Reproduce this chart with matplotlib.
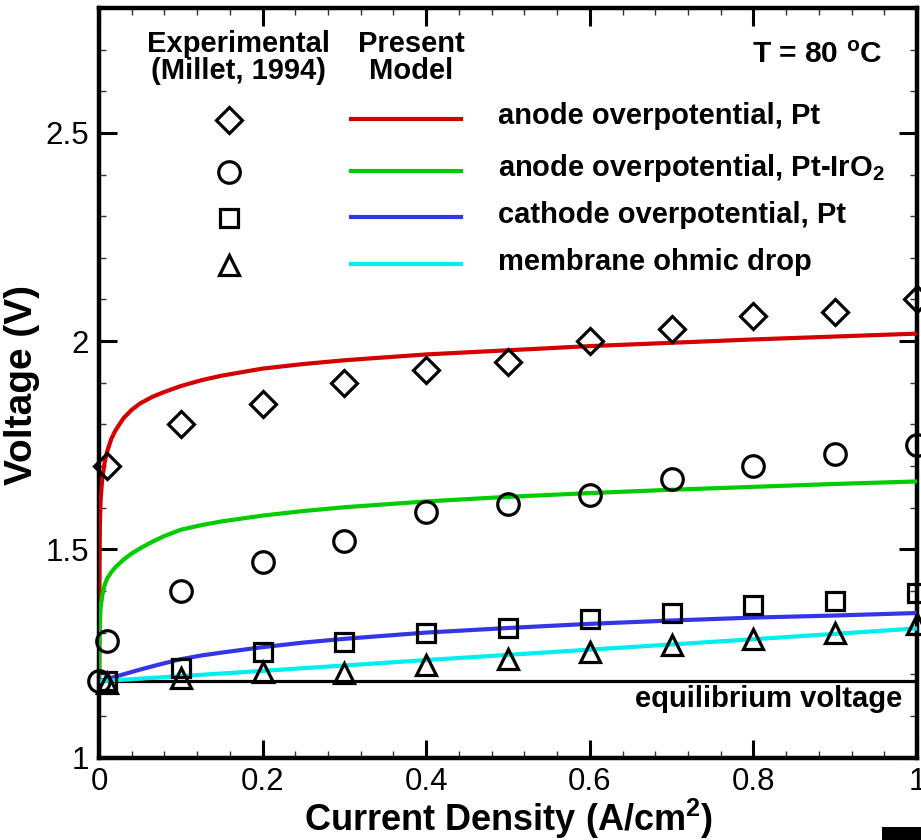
import matplotlib
matplotlib.use("Agg")
import matplotlib.pyplot as plt
from matplotlib.patches import Rectangle
from matplotlib.ticker import MultipleLocator, FixedLocator, FixedFormatter

plt.rcParams['font.family'] = ['Liberation Sans', 'DejaVu Sans']
plt.rcParams['mathtext.fontset'] = 'custom'
plt.rcParams['mathtext.rm'] = 'Liberation Sans'
plt.rcParams['mathtext.bf'] = 'Liberation Sans:bold'
plt.rcParams['mathtext.it'] = 'Liberation Sans:italic'

# ---------------- data ----------------
x_exp = [0.01, 0.1, 0.2, 0.3, 0.4, 0.5, 0.6, 0.7, 0.8, 0.9, 1.0]
exp_anode_pt = [1.70, 1.80, 1.85, 1.90, 1.93, 1.95, 2.00, 2.03, 2.06, 2.07, 2.10]
x_exp_ir = [0.0, 0.01, 0.1, 0.2, 0.3, 0.4, 0.5, 0.6, 0.7, 0.8, 0.9, 1.0]
exp_anode_ir = [1.183, 1.28, 1.40, 1.47, 1.52, 1.59, 1.61, 1.63, 1.67, 1.70, 1.73, 1.75]
exp_cathode = [1.183, 1.216, 1.253, 1.277, 1.299, 1.312, 1.332, 1.348, 1.367, 1.375, 1.395]
exp_membrane = [1.18, 1.19, 1.205, 1.202, 1.222, 1.237, 1.253, 1.27, 1.285, 1.298, 1.32]

x_red = [0.0, 0.0005, 0.001, 0.002, 0.004, 0.007, 0.01, 0.015, 0.02, 0.03, 0.04, 0.05,
         0.065, 0.08, 0.1, 0.125, 0.15, 0.2, 0.25, 0.3, 0.4, 0.5, 0.6, 0.7, 0.8, 0.9, 1.0]
model_anode_pt = [1.183, 1.45, 1.55, 1.62, 1.67, 1.71, 1.735, 1.765, 1.785, 1.815, 1.835, 1.85,
                  1.866, 1.878, 1.892, 1.906, 1.917, 1.934, 1.945, 1.954, 1.968, 1.978, 1.988,
                  1.996, 2.004, 2.011, 2.018]
x_green = [0.0, 0.0005, 0.001, 0.002, 0.004, 0.007, 0.01, 0.015, 0.02, 0.03, 0.04, 0.05,
           0.065, 0.08, 0.1, 0.125, 0.15, 0.2, 0.25, 0.3, 0.4, 0.5, 0.6, 0.7, 0.8, 0.9, 1.0]
model_anode_ir = [1.183, 1.28, 1.32, 1.36, 1.39, 1.415, 1.43, 1.445, 1.457, 1.475, 1.49, 1.502,
                  1.518, 1.532, 1.547, 1.558, 1.567, 1.581, 1.592, 1.601, 1.615, 1.626, 1.635,
                  1.643, 1.650, 1.657, 1.663]
x_blue = [0.0, 0.025, 0.05, 0.075, 0.1, 0.125, 0.15, 0.2, 0.25, 0.3, 0.4, 0.5, 0.6, 0.7, 0.8, 0.9, 1.0]
model_cathode = [1.183, 1.197, 1.211, 1.224, 1.236, 1.245, 1.252, 1.265, 1.276, 1.285, 1.300,
                 1.311, 1.321, 1.329, 1.336, 1.341, 1.347]
x_cyan = [0.0, 0.2, 0.4, 0.6, 0.8, 1.0]
model_membrane = [1.183, 1.208, 1.234, 1.259, 1.284, 1.310]
x_eq = [0.0, 1.0]
eq_voltage = [1.183, 1.183]

xticks = [0, 0.2, 0.4, 0.6, 0.8, 1.0]
xtick_labels = ['0', '0.2', '0.4', '0.6', '0.8', '1']
yticks = [1.0, 1.5, 2.0, 2.5]
ytick_labels = ['1', '1.5', '2', '2.5']

labels = ['anode overpotential, Pt',
          r'anode overpotential, Pt-IrO$_\mathbf{2}$',
          'cathode overpotential, Pt',
          'membrane ohmic drop']
colors = ['#d40000', '#00cc00', '#3535e8', '#00eeee']
markers = ['D', 'o', 's', '^']
msizes = [13, 15.5, 13, 14.5]

# ---------------- figure ----------------
W, H = 921, 840
fig = plt.figure(figsize=(W / 100, H / 100), dpi=100)
x0, x1, ytop, ybot = 99, 917, 8, 757.5
ax = fig.add_axes([x0 / W, 1 - ybot / H, (x1 - x0) / W, (ybot - ytop) / H])

lw = 3.0
ax.plot(x_eq, eq_voltage, color='black', lw=2.3, zorder=2)
ax.plot(x_red, model_anode_pt, color=colors[0], lw=lw, zorder=3)
ax.plot(x_green, model_anode_ir, color=colors[1], lw=lw, zorder=3)
ax.plot(x_blue, model_cathode, color=colors[2], lw=lw, zorder=3)
ax.plot(x_cyan, model_membrane, color=colors[3], lw=lw, zorder=3)

mk = dict(linestyle='none', markerfacecolor='none', markeredgecolor='black',
          markeredgewidth=2.3, clip_on=False, zorder=4)
ax.plot(x_exp, exp_anode_pt, marker=markers[0], ms=msizes[0], **mk)
ax.plot(x_exp_ir, exp_anode_ir, marker=markers[1], ms=msizes[1], **mk)
ax.plot(x_exp, exp_cathode, marker=markers[2], ms=msizes[2], **mk)
ax.plot(x_exp, exp_membrane, marker=markers[3], ms=msizes[3], **mk)

ax.set_xlim(0, 1)
ax.set_ylim(1, 2.8)

ax.xaxis.set_major_locator(FixedLocator(xticks))
ax.xaxis.set_major_formatter(FixedFormatter(xtick_labels))
ax.xaxis.set_minor_locator(MultipleLocator(0.04))
ax.yaxis.set_major_locator(FixedLocator(yticks))
ax.yaxis.set_major_formatter(FixedFormatter(ytick_labels))
ax.yaxis.set_minor_locator(MultipleLocator(0.1))

ax.tick_params(which='both', direction='in', top=True, right=True, labelsize=22.5, pad=7)
ax.tick_params(which='major', length=13, width=2.2)
ax.tick_params(which='minor', length=5, width=1.0, color='#333333')
for s in ax.spines.values():
    s.set_linewidth(3.2)

# ---------------- manual legend ----------------
def ax_xy(px, py):
    return (px - x0) / (x1 - x0), (ybot - py) / (ybot - ytop)

FS = 21
rows_py = [120, 172, 218, 265]
text_base = [124, 176, 223, 270]
for i in range(4):
    mx, my = ax_xy(229, rows_py[i])
    ax.plot([mx], [my], transform=ax.transAxes, marker=markers[i], ms=msizes[i], **mk)
    lx0, ly = ax_xy(351, rows_py[i] - 1)
    lx1, _ = ax_xy(461, rows_py[i] - 1)
    ax.plot([lx0, lx1], [ly, ly], transform=ax.transAxes, color=colors[i], lw=lw, zorder=3)
    tx, ty = ax_xy(498, text_base[i])
    ax.text(tx, ty, labels[i], transform=ax.transAxes, fontsize=FS, fontweight='bold',
            ha='left', va='baseline')

hdr = dict(transform=ax.transAxes, fontsize=FS, fontweight='bold', ha='center', va='baseline')
ax.text(*ax_xy(238.5, 52), 'Experimental', **hdr)
ax.text(*ax_xy(238.5, 79), '(Millet, 1994)', **hdr)
ax.text(*ax_xy(411, 52), 'Present', **hdr)
ax.text(*ax_xy(411, 79), 'Model', **hdr)
ax.text(*ax_xy(882, 63), r'T = 80 $^\mathbf{o}$C', transform=ax.transAxes, fontsize=21.5,
        fontweight='bold', ha='right', va='baseline')
ax.text(*ax_xy(902, 707), 'equilibrium voltage', transform=ax.transAxes, fontsize=FS,
        fontweight='bold', ha='right', va='baseline')

# axis labels
fig.text(509 / W, 1 - 831 / H, r'Current Density (A/cm$^\mathbf{2}$)', fontsize=26,
         fontweight='bold', ha='center', va='baseline')
fig.text(22 / W, 1 - 385 / H, 'Voltage (V)', fontsize=28, fontweight='bold',
         rotation=90, ha='center', va='center')

# black block at the bottom-right corner
fig.patches.append(Rectangle((882 / W, 0), (W - 882) / W, 13.5 / H, transform=fig.transFigure,
                             facecolor='black', edgecolor='none'))

fig.savefig('out.png', dpi=100)
